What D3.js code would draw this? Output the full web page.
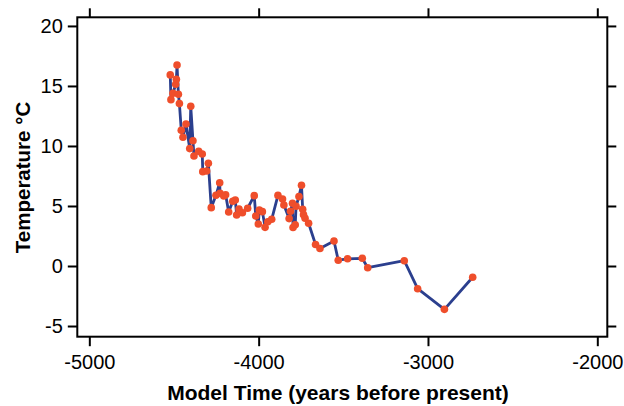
<!DOCTYPE html>
<html>
<head>
<meta charset="utf-8">
<script src="https://cdn.jsdelivr.net/npm/d3@7"></script>
<style>
  html, body { margin: 0; padding: 0; background: #fff; }
  svg { display: block; }
</style>
</head>
<body>
<svg id="chart" width="624" height="406"></svg>
<script>
const years = [-4522,-4518,-4506,-4490,-4486,-4482,-4474,-4468,-4457,-4447,-4429,-4407,-4401,-4388,-4382,-4354,-4333,-4330,-4307,-4297,-4280,-4252,-4230,-4228,-4206,-4195,-4177,-4153,-4138,-4130,-4116,-4096,-4065,-4026,-4017,-4002,-3996,-3978,-3962,-3946,-3923,-3886,-3859,-3851,-3820,-3812,-3800,-3797,-3784,-3779,-3762,-3747,-3740,-3735,-3726,-3705,-3664,-3638,-3555,-3530,-3475,-3388,-3356,-3140,-3061,-2903,-2736];
const temps = [15.92,13.86,14.39,15.14,15.56,16.75,14.31,13.53,11.31,10.73,11.83,9.78,13.31,10.44,9.17,9.56,9.33,7.86,7.92,8.56,4.86,5.89,6.94,6.06,5.83,5.94,4.5,5.39,5.5,4.25,4.75,4.44,4.81,5.86,4.17,3.5,4.67,4.53,3.22,3.69,3.89,5.88,5.58,5.08,3.95,4.56,5.23,3.21,3.43,4.98,5.78,6.73,4.73,4.28,3.98,3.56,1.79,1.46,2.08,0.48,0.6,0.64,-0.14,0.44,-1.89,-3.61,-0.94];
const xTicks = [-5000,-4000,-3000,-2000];
const yTicks = [-5,0,5,10,15,20];
const xDomain = [-5071,-1941];
const yDomain = [-5.89,20.72];
const xTitle = "Model Time (years before present)";
const yTitle = "Temperature °C";

const data = years.map((y,i)=>({t:y, v:temps[i]}));
const svg = d3.select("#chart");
const L = 77.3, R = 607.3, T = 17.3, B = 336.7;
const x = d3.scaleLinear().domain(xDomain).range([L,R]);
const y = d3.scaleLinear().domain(yDomain).range([B,T]);
const font = "'Liberation Sans', Arial, Helvetica, sans-serif";
const fmt = d => String(d);
const tickStyle = g => {
  g.select(".domain").remove();
  g.selectAll(".tick line").attr("stroke","#000").attr("stroke-width",2);
  g.selectAll(".tick text").attr("fill","#000").style("font-family",font).style("font-size","20px");
};

svg.append("g").attr("transform",`translate(0,${B})`)
  .call(d3.axisBottom(x).tickValues(xTicks).tickSize(9.5).tickPadding(9).tickFormat(fmt))
  .call(tickStyle);
svg.append("g").attr("transform",`translate(0,${T})`)
  .call(d3.axisTop(x).tickValues(xTicks).tickSize(9).tickFormat(""))
  .call(tickStyle);
svg.append("g").attr("transform",`translate(${L},0)`)
  .call(d3.axisLeft(y).tickValues(yTicks).tickSize(9.5).tickPadding(5).tickFormat(fmt))
  .call(tickStyle);
svg.append("g").attr("transform",`translate(${R},0)`)
  .call(d3.axisRight(y).tickValues(yTicks).tickSize(9).tickFormat(""))
  .call(tickStyle);

svg.append("rect").attr("x",L).attr("y",T).attr("width",R-L).attr("height",B-T)
  .attr("fill","none").attr("stroke","#000").attr("stroke-width",2);

const line = d3.line().x(d=>x(d.t)).y(d=>y(d.v));
svg.append("path").datum(data).attr("d",line)
  .attr("fill","none").attr("stroke","#2b3f8e").attr("stroke-width",2.8).attr("stroke-linejoin","round");
svg.append("g").selectAll("circle").data(data).join("circle")
  .attr("cx",d=>x(d.t)).attr("cy",d=>y(d.v)).attr("r",3.8).attr("fill","#ef4e2b");

svg.append("text").attr("x",338).attr("y",399.7).attr("text-anchor","middle")
  .style("font-family",font).style("font-size","21px").style("font-weight","bold").text(xTitle);
svg.append("text").attr("transform","translate(29.5,177.5) rotate(-90)").attr("text-anchor","middle")
  .style("font-family",font).style("font-size","20.5px").style("font-weight","bold").text(yTitle);
</script>
</body>
</html>
